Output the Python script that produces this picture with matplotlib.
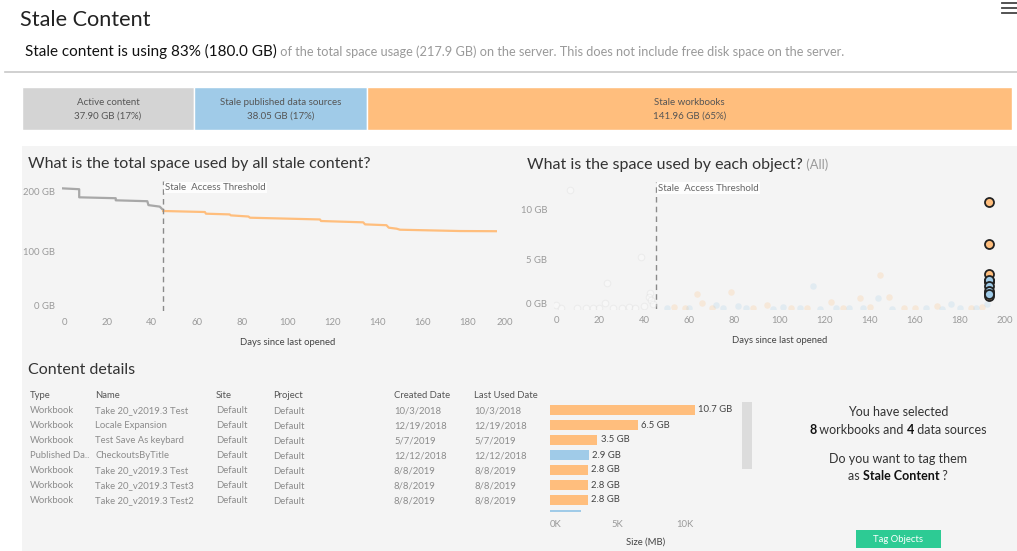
import matplotlib
matplotlib.use("Agg")
import matplotlib.pyplot as plt
from matplotlib.patches import Rectangle
from matplotlib.lines import Line2D
from matplotlib.transforms import Affine2D

W, H = 1017, 551
plt.rcParams['font.family'] = ['Lato', 'DejaVu Sans']

# ---- data -------------------------------------------------------------
seg_names = ["Active content", "Stale published data sources", "Stale workbooks"]
seg_gb = [37.90, 38.05, 141.96]
seg_pct = [17, 17, 65]

threshold = 45

# cumulative space (GB) by days since last opened
active_days = [0, 7.8, 7.8, 24, 24, 38, 38.5, 43.5, 45]
active_gb = [204.5, 203.0, 189.5, 188.0, 184.5, 183.0, 176.5, 174.0, 168.3]
stale_days = [45, 63.5, 64, 74.5, 75, 82.8, 83.5, 114.5, 115, 133.7, 134.5,
              144, 145, 148.5, 150, 176.6, 192.5]
stale_gb = [166.7, 165.0, 162.2, 161.0, 159.4, 157.5, 155.5, 152.6, 150.0,
            147.8, 144.4, 143.0, 138.9, 137.2, 135.5, 133.3, 133.0]

# selected objects (all opened 193 days ago)
sel_wb_gb = [10.7, 6.5, 3.5, 2.8, 2.8, 2.8, 1.6, 1.3]
sel_ds_gb = [2.9, 2.3, 1.8, 1.5]
sel_day = 193

# unselected objects (faded)
act_days = [7, 38.5, 23.3, 42.5, 22.5, 42, 43, 1, 3, 10, 14, 17, 20, 26, 30, 33, 36, 40, 44]
act_gb = [11.9, 5.2, 2.6, 1.6, 0.6, 1.2, 0.9, 0.4, 0.1, 0.1, 0.15, 0.1, 0.1, 0.1, 0.1, 0.2, 0.15, 0.3, 0.5]
wb_days = [63.3, 65.4, 78.4, 94.6, 122.7, 135.7, 144.5, 148.7, 169.7, 53, 58, 70, 88,
           105, 112, 128, 140, 155, 160, 185, 190]
wb_gb = [1.5, 0.66, 1.76, 0.46, 0.7, 1.13, 3.46, 1.26, 0.36, 0.2, 0.1, 0.1, 0.15,
         0.1, 0.1, 0.1, 0.2, 0.1, 0.1, 0.1, 0.2]
ds_days = [72, 81.4, 101.6, 114.7, 143.8, 176, 50, 60, 75, 85, 97, 109, 118, 125,
           131, 137, 150, 165, 172, 180, 187, 192]
ds_gb = [0.46, 0.36, 0.26, 2.36, 1.13, 0.53, 0.1, 0.1, 0.1, 0.1, 0.05, 0.1, 0.05,
         0.1, 0.1, 0.1, 0.05, 0.1, 0.05, 0.1, 0.1, 0.5]

# content details table
tbl_type = ["Workbook", "Workbook", "Workbook", "Published Da..", "Workbook", "Workbook", "Workbook"]
tbl_name = ["Take 20_v2019.3 Test", "Locale Expansion", "Test Save As keybard",
            "CheckoutsByTitle", "Take 20_v2019.3 Test", "Take 20_v2019.3 Test3",
            "Take 20_v2019.3 Test2"]
tbl_site = ["Default"] * 7
tbl_project = ["Default"] * 7
tbl_created = ["10/3/2018", "12/19/2018", "5/7/2019", "12/12/2018", "8/8/2019", "8/8/2019", "8/8/2019"]
tbl_used = ["10/3/2018", "12/19/2018", "5/7/2019", "12/12/2018", "8/8/2019", "8/8/2019", "8/8/2019"]
size_mb = [10700, 6500, 3500, 2900, 2800, 2800, 2800, 2300]
size_kind = ["wb", "wb", "wb", "ds", "wb", "wb", "wb", "ds"]

# ---- styling ----------------------------------------------------------
GRAY_SEG = "#d4d4d4"
BLUE = "#a0cbe8"
ORANGE = "#ffbe7d"
LINE_GRAY = "#a8a8a8"
PANEL = "#f4f4f4"
TXT = "#333333"
LIGHT = "#9a9a9a"
MID = "#666666"

fig = plt.figure(figsize=(W / 100, H / 100), dpi=100)
fig.patch.set_facecolor("white")
px = Affine2D().scale(1, -1).translate(0, H)  # pixel coords, origin top-left


def ax_at(x0, y0, x1, y1):
    a = fig.add_axes([x0 / W, 1 - y1 / H, (x1 - x0) / W, (y1 - y0) / H])
    a.set_facecolor("none")
    for s in a.spines.values():
        s.set_visible(False)
    return a


def txt(x, y, s, **kw):
    kw.setdefault("color", TXT)
    kw.setdefault("va", "center")
    return fig.text(x, y, s, transform=px, **kw)


def runs(x, y, parts, ha="left", va="baseline"):
    r = fig.canvas.get_renderer()
    objs = [txt(0, y, s, va=va, **kw) for s, kw in parts]
    widths = [o.get_window_extent(r).width for o in objs]
    start = x - sum(widths) / 2 if ha == "center" else x
    for o, w in zip(objs, widths):
        o.set_x(start)
        start += w


# panel background
fig.add_artist(Rectangle((22, 146), 995, 405, transform=px, facecolor=PANEL,
                         edgecolor="none", zorder=-5))

# header
txt(20, 26, "Stale Content", fontsize=15.6, va="baseline", color="#222222")
runs(25, 56, [("Stale content is using 83% (180.0 GB)", dict(fontsize=11, color="#111111")),
              (" of the total space usage (217.9 GB) on the server. This does not include free disk space on the server.",
               dict(fontsize=9.2, color=LIGHT))])
fig.add_artist(Line2D([5, 1017], [72, 72], transform=px, color="#c8c8c8", lw=1.2))
for yy in (3, 7.5, 12.5):
    fig.add_artist(Line2D([1002, 1016.5], [yy, yy], transform=px, color="#444444", lw=1.3))

# ---- stacked space bar -------------------------------------------------
axb = ax_at(22, 87, 1012, 130)
total = sum(seg_gb)
left = 0
for name, gb, pct, col in zip(seg_names, seg_gb, seg_pct, [GRAY_SEG, BLUE, ORANGE]):
    axb.barh(0, gb, left=left, height=1, color=col, edgecolor="white", lw=1)
    axb.text(left + gb / 2, 0.13, name, ha="center", va="center", fontsize=7, color="#555555")
    axb.text(left + gb / 2, -0.18, f"{gb:.2f} GB ({pct}%)", ha="center", va="center",
             fontsize=7, color="#555555")
    left += gb
axb.set_xlim(0, total)
axb.set_ylim(-0.5, 0.5)
axb.set_xticks([])
axb.set_yticks([])


def style_axis(a):
    a.tick_params(length=0, labelsize=6.8, labelcolor=LIGHT, pad=5)


def threshold_line(a, ymax):
    a.axvline(threshold, color="#8a8a8a", lw=1, ls=(0, (4, 3)))
    a.text(threshold + 1, ymax * 0.95, "Stale  Access Threshold", fontsize=7, color=MID,
           va="center", ha="left",
           bbox=dict(facecolor="white", edgecolor="none", pad=1, alpha=0.85))


# ---- total space line chart --------------------------------------------
txt(28, 164, "What is the total space used by all stale content?", fontsize=11.5)
ax1 = ax_at(61.6, 181, 512.8, 311)
ax1.plot(active_days, active_gb, color=LINE_GRAY, lw=1.6)
ax1.plot(stale_days, stale_gb, color=ORANGE, lw=1.6)
ax1.set_xlim(0, 200)
ax1.set_ylim(0, 216.7)
threshold_line(ax1, 216.7)
ax1.set_xticks(range(0, 201, 20), [str(v) for v in range(0, 201, 20)])
ax1.set_yticks([0, 100, 200], ["0 GB", "100 GB", "200 GB"])
style_axis(ax1)
ax1.get_yticklabels()[0].set_va("bottom")
ax1.get_xticklabels()[0].set_ha("left")
ax1.get_xticklabels()[-1].set_ha("right")
ax1.set_xlabel("Days since last opened", fontsize=6.8, color="#444444", labelpad=8)

# ---- per object scatter ------------------------------------------------
runs(527, 169, [("What is the space used by each object?", dict(fontsize=11.5)),
                (" (All)", dict(fontsize=9.3, color=LIGHT))])
ax2 = ax_at(554.2, 181.7, 1005, 309.3)
ax2.set_xlim(0, 200)
ax2.set_ylim(0, 12.76)
threshold_line(ax2, 12.76)
ax2.scatter(act_days, act_gb, s=22, facecolor="white", edgecolor="#d8d8d8", lw=0.8, alpha=0.3, zorder=2)
ax2.scatter(wb_days, wb_gb, s=22, color=ORANGE, alpha=0.22, lw=0, zorder=2)
ax2.scatter(ds_days, ds_gb, s=22, color=BLUE, alpha=0.22, lw=0, zorder=2)
ax2.scatter([sel_day] * len(sel_ds_gb), sel_ds_gb, s=42, color=BLUE, edgecolor="#222222", lw=1.3, zorder=4)
ax2.scatter([sel_day] * len(sel_wb_gb), sel_wb_gb, s=42, color=ORANGE, edgecolor="#222222", lw=1.3, zorder=3)
ax2.set_xticks(range(0, 201, 20), [str(v) for v in range(0, 201, 20)])
ax2.set_yticks([0, 5, 10], ["0 GB", "5 GB", "10 GB"])
style_axis(ax2)
ax2.get_yticklabels()[0].set_va("bottom")
ax2.get_xticklabels()[0].set_ha("left")
ax2.set_xlabel("Days since last opened", fontsize=6.8, color="#444444", labelpad=8)

# ---- content details ----------------------------------------------------
txt(28, 370, "Content details", fontsize=11.5)
cols_x = [30, 95, 215.7, 272.7, 394, 474.3]
headers = ["Type", "Name", "Site", "Project", "Created Date", "Last Used Date"]
for cx, h in zip(cols_x, headers):
    txt(cx, 396, h, fontsize=6.8, color="#555555")
columns = [tbl_type, tbl_name, tbl_site, tbl_project, tbl_created, tbl_used]
for i in range(len(tbl_type)):
    yy = 410.7 + 15 * i
    for j, (cx, col) in enumerate(zip(cols_x, columns)):
        txt(cx, yy + (1 if j == 3 else 0), col[i], fontsize=6.8, color="#8c8c8c")

ax3 = ax_at(549.6, 402.5, 739.2, 512)
rows = list(range(len(size_mb)))
ax3.barh(rows, size_mb, height=0.72,
         color=[ORANGE if k == "wb" else BLUE for k in size_kind])
# only rows that fit in the scroll window get a label
for r, v in zip(rows[:len(tbl_type)], size_mb):
    ax3.text(v + 260, r, f"{v / 1000:.1f} GB", va="center", ha="left", fontsize=6.8,
             color="#444444")
ax3.set_xlim(0, 14000)
ax3.set_ylim(6.8, -0.5)
ax3.set_yticks([])
ax3.set_xticks([0, 5000, 10000], ["0K", "5K", "10K"])
ax3.tick_params(length=0, labelsize=6.8, labelcolor=LIGHT, pad=6)
ax3.get_xticklabels()[0].set_ha("left")
fig.text(646 / W, 1 - 542 / H, "Size (MB)", fontsize=6.8, color="#444444", ha="center", va="center")

# scrollbar
fig.add_artist(Rectangle((742.3, 402.3), 9.4, 66.4, transform=px, facecolor="#dcdcdc",
                         edgecolor="none"))

# tagging prompt
runs(898, 416, [("You have selected", dict(fontsize=9))], ha="center")
runs(898, 433.5, [("8", dict(fontsize=9, weight="bold", color="#111111")),
                  (" workbooks and ", dict(fontsize=9)),
                  ("4", dict(fontsize=9, weight="bold", color="#111111")),
                  (" data sources", dict(fontsize=9))], ha="center")
runs(898, 463, [("Do you want to tag them", dict(fontsize=9))], ha="center")
runs(898, 480, [("as ", dict(fontsize=9)),
                ("Stale Content", dict(fontsize=9, weight="bold", color="#111111")),
                (" ?", dict(fontsize=9))], ha="center")

fig.add_artist(Rectangle((855.7, 530), 85, 17.7, transform=px, facecolor="#2dcb94",
                         edgecolor="none"))
txt(898.2, 539, "Tag Objects", fontsize=6.8, color="white", ha="center")

fig.savefig("out.png", dpi=100, facecolor="white")
